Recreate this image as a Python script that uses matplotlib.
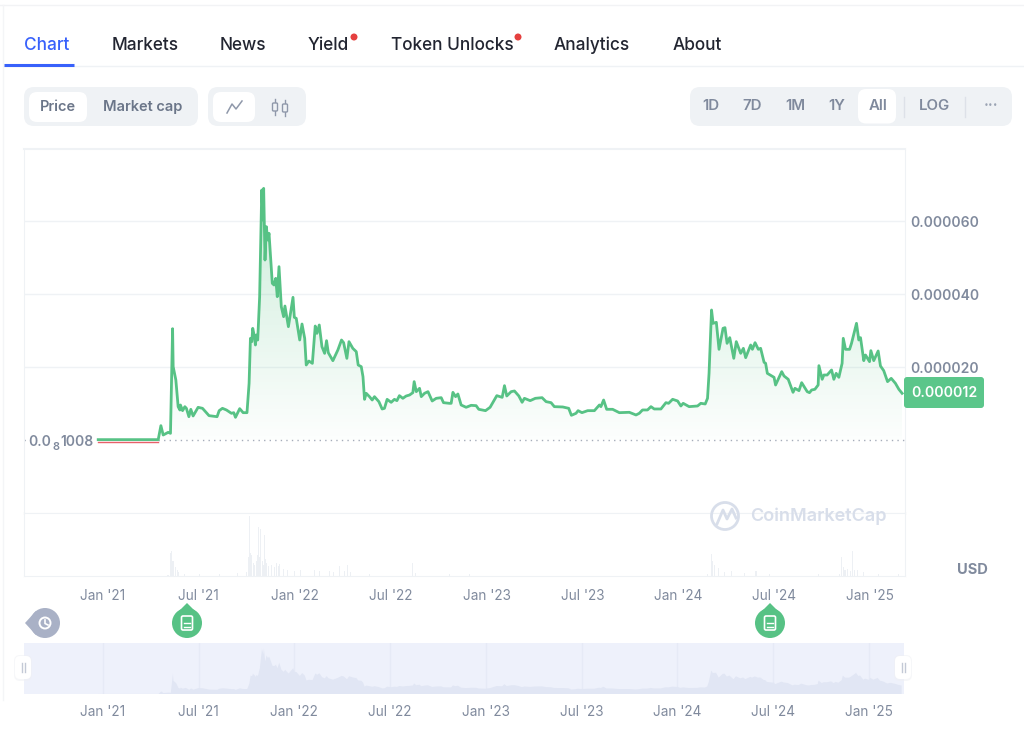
import numpy as np
import matplotlib
matplotlib.use('Agg')
import matplotlib.pyplot as plt
from matplotlib.patches import FancyBboxPatch, Circle, Polygon

plt.rcParams['font.family'] = ['Inter', 'DejaVu Sans']

# decimal years and price in millionths of USD
dates = [2020.975, 2021.288, 2021.302, 2021.314, 2021.340, 2021.352, 2021.363, 2021.366, 2021.380, 2021.392,
         2021.401, 2021.404, 2021.415, 2021.427, 2021.435, 2021.448, 2021.458, 2021.470, 2021.496, 2021.519,
         2021.553, 2021.595, 2021.606, 2021.623, 2021.644, 2021.670, 2021.682, 2021.691, 2021.701, 2021.713,
         2021.731, 2021.751, 2021.762, 2021.769, 2021.776, 2021.781, 2021.790, 2021.795, 2021.800, 2021.807,
         2021.817, 2021.828, 2021.835, 2021.838, 2021.845, 2021.852, 2021.859, 2021.866, 2021.883, 2021.892,
         2021.901, 2021.909, 2021.918, 2021.930, 2021.942, 2021.949, 2021.967, 2021.979, 2021.991, 2021.998,
         2022.008, 2022.026, 2022.038, 2022.052, 2022.060, 2022.074, 2022.092, 2022.107, 2022.116, 2022.128,
         2022.142, 2022.156, 2022.166, 2022.175, 2022.199, 2022.225, 2022.244, 2022.255, 2022.272, 2022.283,
         2022.303, 2022.321, 2022.331, 2022.347, 2022.356, 2022.364, 2022.373, 2022.390, 2022.404, 2022.416,
         2022.439, 2022.456, 2022.468, 2022.482, 2022.503, 2022.520, 2022.533, 2022.546, 2022.564, 2022.581,
         2022.599, 2022.616, 2022.623, 2022.634, 2022.651, 2022.660, 2022.677, 2022.695, 2022.717, 2022.738,
         2022.764, 2022.776, 2022.807, 2022.816, 2022.825, 2022.839, 2022.851, 2022.868, 2022.894, 2022.920,
         2022.946, 2022.960, 2022.995, 2023.019, 2023.054, 2023.082, 2023.094, 2023.106, 2023.129, 2023.146,
         2023.169, 2023.186, 2023.198, 2023.228, 2023.255, 2023.290, 2023.311, 2023.337, 2023.354, 2023.398,
         2023.429, 2023.443, 2023.467, 2023.478, 2023.498, 2023.528, 2023.563, 2023.589, 2023.597, 2023.611,
         2023.627, 2023.658, 2023.693, 2023.745, 2023.780, 2023.797, 2023.814, 2023.840, 2023.858, 2023.875,
         2023.910, 2023.936, 2023.950, 2023.971, 2023.997, 2024.014, 2024.026, 2024.057, 2024.101, 2024.118,
         2024.141, 2024.153, 2024.161, 2024.174, 2024.182, 2024.199, 2024.213, 2024.234, 2024.244, 2024.255,
         2024.269, 2024.290, 2024.303, 2024.326, 2024.340, 2024.352, 2024.378, 2024.387, 2024.401, 2024.418,
         2024.430, 2024.448, 2024.456, 2024.465, 2024.500, 2024.508, 2024.540, 2024.552, 2024.574, 2024.599,
         2024.609, 2024.630, 2024.644, 2024.673, 2024.685, 2024.696, 2024.713, 2024.730, 2024.734, 2024.751,
         2024.760, 2024.777, 2024.800, 2024.812, 2024.824, 2024.838, 2024.855, 2024.861, 2024.873, 2024.894,
         2024.904, 2024.930, 2024.942, 2024.951, 2024.968, 2024.977, 2024.998, 2025.005, 2025.020, 2025.043,
         2025.055, 2025.072, 2025.092, 2025.111, 2025.133, 2025.151, 2025.168]
prices = [0.10, 0.10, 3.93, 1.37, 2.10, 1.83, 30.50, 20.09, 16.44, 9.13,
          8.22, 9.59, 8.04, 9.13, 8.68, 6.39, 8.40, 6.58, 8.95, 8.68,
          6.67, 6.39, 8.04, 8.68, 8.22, 7.31, 7.49, 6.21, 7.31, 8.59,
          7.49, 7.49, 15.53, 27.85, 26.94, 30.59, 28.31, 26.03, 28.77, 27.40,
          39.27, 68.49, 60.27, 68.95, 49.31, 58.45, 54.79, 56.62, 42.92, 42.47,
          44.29, 39.27, 47.49, 36.53, 33.79, 36.71, 31.05, 35.16, 39.09, 33.61,
          33.33, 27.40, 31.78, 27.85, 20.55, 21.64, 21.00, 31.23, 29.22, 31.51,
          25.57, 23.74, 27.21, 23.93, 21.73, 24.66, 27.40, 26.67, 22.37, 26.94,
          25.11, 24.20, 20.55, 20.09, 17.35, 11.14, 12.79, 11.87, 10.96, 11.87,
          10.50, 8.49, 8.68, 11.14, 10.32, 11.14, 10.78, 12.15, 11.42, 12.05,
          12.33, 12.97, 15.99, 13.25, 14.16, 11.88, 12.79, 13.25, 10.69, 11.42,
          11.60, 10.23, 10.05, 10.05, 13.06, 11.88, 12.61, 9.59, 8.96, 9.50,
          9.41, 8.41, 8.04, 8.96, 12.15, 11.69, 14.89, 12.06, 13.25, 13.43,
          12.06, 10.33, 11.42, 10.78, 11.42, 11.60, 10.51, 10.23, 9.14, 9.05,
          8.68, 6.76, 7.31, 8.04, 7.49, 8.04, 8.04, 9.59, 9.14, 10.96,
          8.41, 8.41, 7.49, 7.59, 6.86, 7.31, 8.23, 8.23, 9.14, 8.50,
          8.50, 10.23, 10.05, 11.15, 10.69, 9.32, 10.05, 9.14, 9.32, 10.05,
          9.87, 11.42, 18.27, 35.62, 31.97, 32.24, 24.84, 30.60, 30.78, 26.49,
          28.04, 22.38, 26.95, 23.75, 25.12, 22.56, 26.03, 24.84, 26.67, 24.84,
          25.12, 21.28, 21.01, 18.27, 17.17, 15.07, 18.73, 17.54, 16.63, 13.06,
          14.16, 13.52, 15.71, 13.25, 12.97, 13.70, 13.89, 15.07, 20.37, 16.63,
          17.81, 17.81, 19.18, 16.63, 18.27, 17.17, 21.01, 27.86, 24.84, 24.84,
          26.49, 31.97, 27.40, 28.04, 21.74, 23.29, 21.47, 24.48, 21.74, 24.39,
          20.28, 19.00, 15.99, 16.90, 15.53, 13.89, 12.79]

# volume, relative units
vol_dates = [2021.339, 2021.354, 2021.359, 2021.365, 2021.370, 2021.380, 2021.390, 2021.396, 2021.427, 2021.505,
             2021.609, 2021.703, 2021.750, 2021.760, 2021.766, 2021.771, 2021.776, 2021.784, 2021.792, 2021.800,
             2021.807, 2021.813, 2021.818, 2021.823, 2021.833, 2021.839, 2021.844, 2021.849, 2021.854, 2021.865,
             2021.880, 2021.893, 2021.906, 2021.914, 2021.922, 2021.943, 2021.960, 2022.000, 2022.030, 2022.104,
             2022.130, 2022.182, 2022.200, 2022.234, 2022.260, 2022.276, 2022.292, 2022.390, 2022.615, 2022.630,
             2022.807, 2022.911, 2024.151, 2024.172, 2024.180, 2024.188, 2024.208, 2024.240, 2024.276, 2024.344,
             2024.406, 2024.474, 2024.734, 2024.840, 2024.854, 2024.862, 2024.870, 2024.885, 2024.901, 2024.911,
             2024.922, 2024.937, 2024.969, 2025.047, 2025.151]
volumes = [0.5, 22, 24, 14, 11, 8, 5, 3, 1.5, 1.5,
           1, 2, 3, 18, 59, 22, 20, 12, 10, 14,
           20, 48, 18, 46, 14, 10, 40, 16, 12, 9,
           10, 8, 12, 9, 11, 6, 5, 4, 5, 5,
           4, 4, 3, 9, 4, 10, 3, 1, 12, 2,
           1.5, 1.5, 1, 21, 14, 10, 7, 3, 4, 2,
           4, 1, 1, 1, 18, 8, 5, 6, 4, 24,
           5, 5, 3, 1, 1]

tick_years = [2021, 2021.5, 2022, 2022.5, 2023, 2023.5, 2024, 2024.5, 2025]
tick_labels = ["Jan '21", "Jul '21", "Jan '22", "Jul '22", "Jan '23", "Jul '23", "Jan '24", "Jul '24", "Jan '25"]
price_ticks = [0.00002, 0.00004, 0.00006]
last_price = "0.000012"
first_price_digits = "1008"
tabs = [("Chart", 24), ("Markets", 112), ("News", 220), ("Yield", 308),
        ("Token Unlocks", 391), ("Analytics", 554), ("About", 673)]
ranges = [("1D", 711), ("7D", 752), ("1M", 795), ("1Y", 837), ("All", 878), ("LOG", 935)]

GREEN = '#57c285'
GREY = '#808a9d'
LINE = '#eff2f5'
W, H = 1024, 730
xlim = (2020.588, 2025.183)

dates = np.array(dates)
prices = np.array(prices) * 1e-6

fig = plt.figure(figsize=(W / 100, H / 100), dpi=100, facecolor='white')


def px_axes(left, top, right, bottom):
    return fig.add_axes([left / W, 1 - bottom / H, (right - left) / W, (bottom - top) / H])


def box(ax, x0, y0, x1, y1, r, color, **kw):
    ax.add_patch(FancyBboxPatch((x0, y0), x1 - x0, y1 - y0, boxstyle=f'round,pad=0,rounding_size={r}',
                                fc=color, ec='none', **kw))


# price panel
ax = px_axes(24, 149, 905, 513)
ax.set_facecolor('none')
ymax = 79.73e-6
grad = np.zeros((256, 2, 4))
grad[..., :3] = matplotlib.colors.to_rgb(GREEN)
grad[..., 3] = np.linspace(0.32, 0.015, 256)[:, None]
im = ax.imshow(grad, extent=[dates[0], dates[-1], 0, ymax * 0.9], aspect='auto', zorder=1)
clip = Polygon(np.column_stack([np.r_[dates[0], dates, dates[-1]], np.r_[0, prices, 0]]),
               transform=ax.transData, fc='none', ec='none')
ax.add_patch(clip)
im.set_clip_path(clip)
ax.plot(dates[:2], [-0.45e-6, -0.45e-6], color='#e8606a', lw=1, zorder=2)
ax.plot(dates, prices, color=GREEN, lw=2.0, zorder=3, solid_joinstyle='round')
ax.plot([dates[1], xlim[1]], [0, 0], color='#a6adba', lw=1, ls=(0, (1, 3)), zorder=2)
ax.plot([xlim[0], xlim[0] + 0.02], [0, 0], color='#a6adba', lw=1, ls=(0, (1, 3)), zorder=2)
ax.set_xlim(xlim)
ax.set_ylim(-20e-6, ymax)
ax.set_yticks(price_ticks)
ax.set_yticklabels([f'{t:.6f}' for t in price_ticks], color=GREY, fontsize=10, fontweight=600)
ax.yaxis.tick_right()
ax.tick_params(axis='y', length=0, pad=4)
ax.set_xticks([])
ax.grid(axis='y', color=LINE, lw=1)
ax.set_axisbelow(True)
for s in ax.spines.values():
    s.set_color(LINE)
ax.spines['top'].set_linewidth(1.5)

# volume panel
vax = px_axes(24, 513, 905, 575.5)
vax.bar(vol_dates, volumes, width=0.0055, color='#edf0f4', lw=0)
vax.set_xlim(xlim)
vax.set_ylim(0, 62)
vax.set_yticks([])
vax.set_xticks(tick_years)
vax.set_xticklabels(tick_labels, color=GREY, fontsize=9.8)
vax.tick_params(axis='x', length=0, pad=10)
for s in vax.spines.values():
    s.set_color(LINE)

# navigator
nav = px_axes(24, 643, 904, 693.5)
nav.set_facecolor('#eef1fb')
nav.fill_between(dates, prices, color='#e1e6f4', lw=0)
nav.set_xlim(xlim)
nav.set_ylim(0, 76.7e-6)
nav.set_yticks([])
nav.set_xticks(tick_years)
nav.set_xticklabels(tick_labels, color=GREY, fontsize=9.8)
nav.tick_params(axis='x', length=0, pad=8)
nav.grid(axis='x', color='#e6eaf6', lw=1)
nav.set_axisbelow(True)
for s in nav.spines.values():
    s.set_visible(False)

# page furniture, in pixel coordinates
ui = fig.add_axes([0, 0, 1, 1], zorder=10)
ui.set_xlim(0, W)
ui.set_ylim(H, 0)
ui.axis('off')
ui.patch.set_alpha(0)

ui.plot([0, W], [5, 5], color='#f2f3f5', lw=1)
ui.plot([3, 3], [5, 700], color='#f4f5f7', lw=1)
ui.plot([4, W], [66, 66], color=LINE, lw=1)
ui.plot([4, 74], [64.5, 64.5], color='#3861fb', lw=2.2, solid_capstyle='butt')
for name, x in tabs:
    ui.text(x, 45, name, fontsize=12.4, fontweight=500, va='center', ha='left',
            color='#3861fb' if name == 'Chart' else '#222531')
ui.add_patch(Circle((354, 37), 3.5, fc='#e5403f', ec='none'))
ui.add_patch(Circle((518, 37), 3.5, fc='#e5403f', ec='none'))

box(ui, 24, 87, 198, 126, 10, LINE)
box(ui, 29, 92, 87, 122, 8, 'white')
ui.text(58, 107, "Price", fontsize=10.5, fontweight=600, color='#6b7689', ha='center', va='center')
ui.text(143, 107, "Market cap", fontsize=10.5, fontweight=600, color='#6b7689', ha='center', va='center')

box(ui, 208, 87, 306, 126, 10, LINE)
box(ui, 213, 92, 255, 122, 8, 'white')
ui.plot([227, 232, 236, 242], [113, 104, 109, 101], color='#8f98aa', lw=1.1)
for cx, top, bot in [(275, 99, 115), (285, 100, 116)]:
    ui.plot([cx, cx], [top, bot], color='#8f98aa', lw=1)
    ui.add_patch(FancyBboxPatch((cx - 2.5, top + 4), 5, bot - top - 8, boxstyle='round,pad=0,rounding_size=1',
                                fc=LINE, ec='#8f98aa', lw=1, zorder=4))

box(ui, 690, 87, 1012, 126, 10, LINE)
box(ui, 858, 89, 896, 123.5, 8, 'white')
for name, x in ranges:
    ui.text(x, 106, name, fontsize=10.8, fontweight=600, color='#808a9d', ha='center', va='center')
for x in (904, 965):
    ui.plot([x, x], [97, 117], color='#dde1e8', lw=1)
ui.text(991, 106, "···", fontsize=11, fontweight=600, color='#9aa3b3', ha='center', va='center')

# first price label
box(ui, 30, 432, 95, 452, 2, 'white')
ui.text(51, 441.5, "0.0", fontsize=10, fontweight=600, color=GREY, ha='right', va='center')
ui.text(52.5, 447, "8", fontsize=8, fontweight=600, color=GREY, ha='left', va='center')
ui.text(60, 441.5, first_price_digits, fontsize=10, fontweight=600, color=GREY, ha='left', va='center')

# last price tag
box(ui, 904, 377, 984, 408, 3, '#5bc68a')
ui.text(944, 393, last_price, fontsize=10.2, fontweight=600, color='white', ha='center', va='center')
ui.text(972, 570, "USD", fontsize=10.5, fontweight=700, color=GREY, ha='center', va='center')

# watermark
ui.add_patch(Circle((725, 516), 13.5, fc='none', ec='#d8deea', lw=2))
ui.plot([717, 723, 727, 732, 736], [524, 510, 519, 509, 518], color='#d8deea', lw=2)
ui.text(750, 516.5, "CoinMarketCap", fontsize=13, fontweight=600, color='#d8deea', ha='left', va='center')

# event pins
ui.add_patch(Circle((45, 623), 15, fc='#a9b1c6', ec='none'))
ui.add_patch(Polygon([(25, 623), (36, 611), (36, 635)], fc='#a9b1c6', ec='none'))
ui.add_patch(Circle((45, 623), 5.5, fc='none', ec='white', lw=1.4))
ui.plot([45, 45, 48], [620, 623.5, 625], color='white', lw=1.2)
for cx in (187, 770):
    ui.add_patch(Circle((cx, 623), 15, fc=GREEN, ec='none'))
    ui.add_patch(Polygon([(cx, 603), (cx - 10, 613), (cx + 10, 613)], fc=GREEN, ec='none'))
    ui.add_patch(FancyBboxPatch((cx - 5.5, 616), 11, 14, boxstyle='round,pad=0,rounding_size=1.5',
                                fc='none', ec='white', lw=1.2))
    ui.plot([cx - 3, cx + 3], [623, 623], color='white', lw=1)
    ui.plot([cx - 3, cx + 3], [626.5, 626.5], color='white', lw=1)

# navigator handles
for x0 in (15, 895):
    box(ui, x0 - 1, 655, x0 + 17, 681, 6, '#eef0f4', alpha=0.5)
    box(ui, x0, 656, x0 + 16, 679, 5, 'white')
    ui.plot([x0 + 6.5, x0 + 6.5], [663, 672], color='#c3c9d6', lw=1)
    ui.plot([x0 + 10, x0 + 10], [663, 672], color='#c3c9d6', lw=1)

fig.savefig('out.png', dpi=100)
